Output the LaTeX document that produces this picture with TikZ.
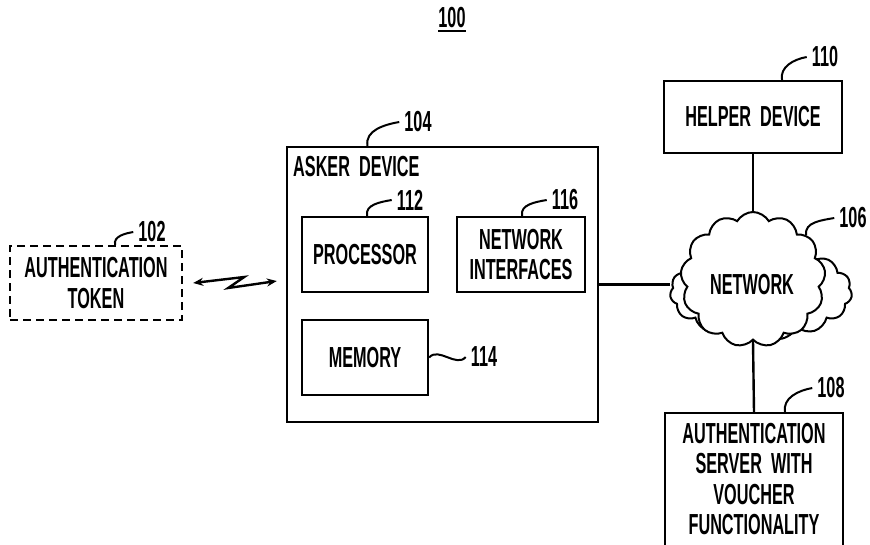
\documentclass[tikz,border=0pt]{standalone}
\usepackage{fontspec}
\setmainfont{Liberation Sans}[FakeStretch=0.56,UprightFont=*,BoldFont=* Bold]
\usetikzlibrary{shapes.symbols,arrows.meta}

\begin{document}
\begin{tikzpicture}[x=1pt,y=-1pt,
  every node/.style={font=\fontsize{29}{30.5}\selectfont\bfseries,align=center,inner sep=0pt},
  box/.style={draw,line width=2.4pt},
  tag/.style={inner sep=5pt},
  lead/.style={line width=2pt},
  link/.style={line width=2.4pt},
  bolt/.style={line width=2.4pt,{Stealth[length=10pt,width=8pt]}-{Stealth[length=10pt,width=8pt]}}]
  \useasboundingbox (0,0) rectangle (870,544);

  % Figure number
  \node (fig) at (452,18) {100};
  \draw[line width=2pt] ([yshift=-3pt]fig.south west) -- ([yshift=-3pt]fig.south east);

  % Token and asker device
  \node[box,dashed,dash pattern=on 8pt off 5pt,minimum width=172pt,minimum height=74pt] (tok) at (96,283) {AUTHENTICATION\\TOKEN};
  \node[box,minimum width=311pt,minimum height=275pt] (asker) at (442.5,284.5) {};
  \node[anchor=west] (askerlbl) at (293,167) {ASKER\ \ DEVICE};

  % Parts inside the asker device
  \node[box,minimum width=126pt,minimum height=75pt] (proc) at (365,254.5) {PROCESSOR};
  \node[box,minimum width=128pt,minimum height=75pt] (nif) at (521,254.5) {NETWORK\\INTERFACES};
  \node[box,minimum width=126pt,minimum height=75pt] (mem) at (365,357.5) {MEMORY};

  % Network side
  \node[box,minimum width=178pt,minimum height=72pt] (helper) at (753,117) {HELPER\ \ DEVICE};
  \node[draw,line width=2pt,fill=white,cloud,cloud puffs=15,cloud puff arc=120,cloud ignores aspect,
        minimum width=182pt,minimum height=96pt] (netback) at (761,292) {};
  \node[draw,line width=2pt,fill=white,cloud,cloud puffs=13,cloud puff arc=120,cloud ignores aspect,
        minimum width=145pt,minimum height=135pt] (net) at (753,279.5) {};
  \node (nettxt) at (752,285) {NETWORK};
  \node[box,minimum width=178pt,minimum height=134pt,anchor=north] (server) at (754,412) {};
  \node (servertxt) at (754,479) {AUTHENTICATION\\SERVER\ \ WITH\\VOUCHER\\FUNCTIONALITY};

  % Reference numerals
  \node[tag] (l102) at (152,232) {102};
  \node[tag] (l104) at (418,122) {104};
  \node[tag] (l112) at (410,200) {112};
  \node[tag] (l116) at (565,200) {116};
  \node[tag] (l114) at (484,357) {114};
  \node[tag] (l110) at (825,57) {110};
  \node[tag] (l106) at (853,218) {106};
  \node[tag] (l108) at (831,388) {108};

  % Leader lines
  \draw[lead] ([xshift=19pt]tok.north) to[out=100,in=190] (l102.west);
  \draw[lead] ([xshift=-75pt]asker.north) to[out=100,in=190] (l104.west);
  \draw[lead] ([xshift=2pt]proc.north) to[out=100,in=190] (l112.west);
  \draw[lead] ([xshift=1pt]nif.north) to[out=100,in=190] (l116.west);
  \draw[lead] (mem.east) to[out=50,in=-130] (l114.west);
  \draw[lead] ([xshift=29pt]helper.north) to[out=100,in=190] (l110.west);
  \draw[lead] (net.40) to[out=100,in=190] (l106.west);
  \draw[lead] ([xshift=31pt]server.north) to[out=100,in=190] (l108.west);

  % Connections
  \draw[bolt] ([xshift=10pt]tok.east) -- ++(51,-6) -- ++(-16,11) -- ([xshift=-9pt,yshift=3.5pt]asker.west);
  \draw[link] (asker.east) -- (asker.east -| netback.west);
  \draw[link] (helper.south) -- (net.north);
  \draw[link] (net.south) -- (server.north);
\end{tikzpicture}
\end{document}
